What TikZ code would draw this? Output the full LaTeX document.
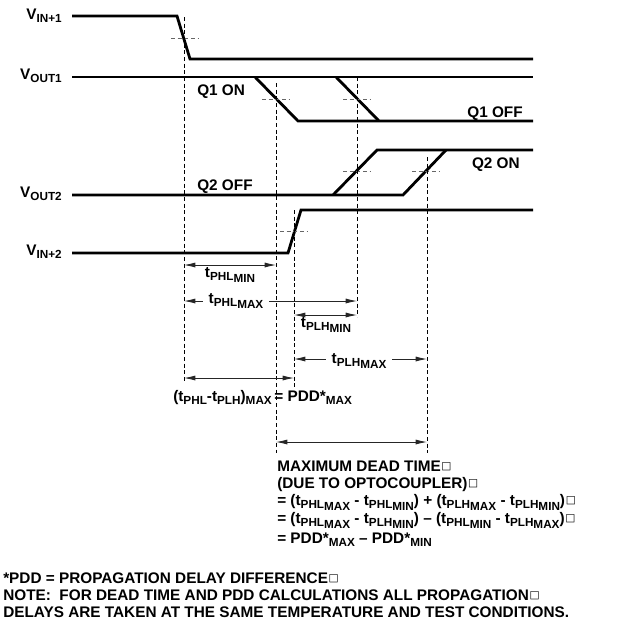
\documentclass[tikz,border=0pt]{standalone}
\usepackage{fontspec}
\setmainfont{Liberation Sans}
\newfontfamily\boxfont{DejaVu Sans}
\usetikzlibrary{arrows.meta}

% lowered parts of the timing names
\newcommand{\dn}[1]{\raisebox{-2.5pt}{\fontsize{8.8pt}{9pt}\selectfont #1}}
\newcommand{\ddn}[1]{\raisebox{-4.3pt}{\fontsize{8.8pt}{9pt}\selectfont #1}}
\newcommand{\tph}[1]{t\dn{PHL}\ddn{#1}}
\newcommand{\tpl}[1]{t\dn{PLH}\ddn{#1}}
\newcommand{\sq}{\hspace{0.5pt}\raisebox{1pt}{\boxfont\fontsize{8pt}{8pt}\selectfont □}}

\begin{document}
\begin{tikzpicture}[x=0.75pt,y=-0.75pt,
  wave/.style={line width=2.1pt},
  guide/.style={line width=0.5pt, dash pattern=on 3pt off 2pt},
  cross/.style={line width=0.6pt, black!60, dash pattern=on 3pt off 2pt},
  dim/.style={line width=0.6pt, black!85, {Latex[length=8.5pt,width=3.8pt]}-{Latex[length=8.5pt,width=3.8pt]}},
  lbl/.style={font=\bfseries\fontsize{11.5pt}{13pt}\selectfont, inner sep=0pt},
  sig/.style={lbl, anchor=base east},
  txt/.style={lbl, anchor=base west}]
\useasboundingbox (0,0) rectangle (624,619);

% signal names
\node[sig] (vin1) at (62,19) {V\dn{IN+1}};
\node[sig] (vout1) at (62,79) {V\dn{OUT1}};
\node[sig] (vout2) at (62,197) {V\dn{OUT2}};
\node[sig] (vin2) at (62,255) {V\dn{IN+2}};

% waveforms
\draw[wave] (72,16) -- (177,16) -- (190,59) -- (533,59);
\draw[wave] (72,77) -- (533,77);
\draw[wave] (255,77) -- (298,121) -- (533,121);
\draw[wave] (336,77) -- (379,121);
\draw[wave] (72,195) -- (403,195) -- (446,150);
\draw[wave] (333,195) -- (377,150) -- (533,150);
\draw[wave] (72,253) -- (288,253) -- (301,210) -- (533,210);

% states
\node[txt] (q1on) at (197,95) {Q1 ON};
\node[txt] (q2off) at (197,190) {Q2 OFF};
\node[lbl, anchor=base east] (q1off) at (523,117) {Q1 OFF};
\node[lbl, anchor=base east] (q2on) at (520,168) {Q2 ON};

% 50% marks
\draw[cross] (171,38) -- (199,38);
\draw[cross] (262,99) -- (290,99);
\draw[cross] (343,99) -- (371,99);
\draw[cross] (343,171) -- (371,171);
\draw[cross] (412,171) -- (439,171);
\draw[cross] (280,231) -- (307,231);

% guide lines
\draw[guide] (184,17) coordinate (g1t) -- (184,382) coordinate (g1b);
\draw[guide] (276,83) coordinate (g2t) -- (276,453) coordinate (g2b);
\draw[guide] (357,77) coordinate (g3t) -- (357,317) coordinate (g3b);
\draw[guide] (294,210) coordinate (g4t) -- (294,387) coordinate (g4b);
\draw[guide] (427,157) coordinate (g5t) -- (427,453) coordinate (g5b);

% delay arrows
\foreach \nm/\xa/\xb/\yy in {phlmin/184/276/265, phlmax/184/357/301,
    plhmin/294/357/315, plhmax/294/427/359, pdd/184/294/378, dead/276/427/442}{
  \coordinate (\nm-l) at (\xa,\yy);
  \coordinate (\nm-r) at (\xb,\yy);
}
\draw[dim] (phlmin-l) -- (phlmin-r);
\draw[dim] (phlmax-l) -- (phlmax-r);
\draw[dim] (plhmin-l) -- (plhmin-r);
\draw[dim] (plhmax-l) -- (plhmax-r);
\draw[dim] (pdd-l) -- (pdd-r);
\draw[dim] (dead-l) -- (dead-r);

\node[lbl, anchor=base] (lphlmin) at (230,277) {\tph{MIN}};
\node[lbl, anchor=base, fill=white, inner xsep=4pt] (lphlmax) at (236,303) {\tph{MAX}};
\node[lbl, anchor=base] (lplhmin) at (326,327) {\tpl{MIN}};
\node[lbl, anchor=base, fill=white, inner xsep=4pt] (lplhmax) at (359,363) {\tpl{MAX}};
\node[txt] (lpdd) at (173,401) {(t\dn{PHL}-t\dn{PLH})\dn{MAX}\,= PDD*\dn{MAX}};

% dead time
\node[txt] (dt1) at (277,471) {MAXIMUM DEAD TIME\sq};
\node[txt] (dt2) at (277,488) {(DUE TO OPTOCOUPLER)\sq};
\node[txt] (dt3) at (277,505) {= (\tph{MAX} - \tph{MIN}) + (\tpl{MAX} - \tpl{MIN})\sq};
\node[txt] (dt4) at (277,523) {= (\tph{MAX} - \tpl{MIN}) -- (\tph{MIN} - \tpl{MAX})\sq};
\node[txt] (dt5) at (277,543) {= PDD*\dn{MAX} -- PDD*\dn{MIN}};

% notes
\node[txt] (n1) at (3,583) {*PDD = PROPAGATION DELAY DIFFERENCE\sq};
\node[txt] (n2) at (3,600) {NOTE:\ \ FOR DEAD TIME AND PDD CALCULATIONS ALL PROPAGATION\sq};
\node[txt] (n3) at (3,617) {DELAYS ARE TAKEN AT THE SAME TEMPERATURE AND TEST CONDITIONS.};
\end{tikzpicture}
\end{document}
